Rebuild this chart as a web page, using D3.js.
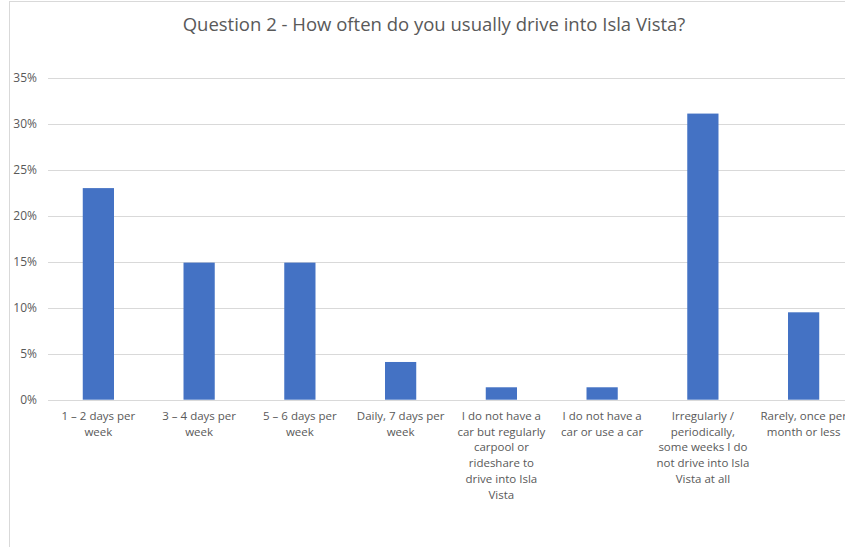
<!DOCTYPE html>
<html><head><meta charset="utf-8">
<script src="https://cdn.jsdelivr.net/npm/d3@7"></script>
<style>body{margin:0;background:#fff;}svg{display:block;}</style>
</head><body>
<svg id="chart" width="845" height="547"></svg>
<script>
const categories = [
  "1 – 2 days per week",
  "3 – 4 days per week",
  "5 – 6 days per week",
  "Daily, 7 days per week",
  "I do not have a car but regularly carpool or rideshare to drive into Isla Vista",
  "I do not have a car or use a car",
  "Irregularly / periodically, some weeks I do not drive into Isla Vista at all",
  "Rarely, once per month or less"
];
const values = [0.230, 0.149, 0.149, 0.041, 0.0135, 0.0135, 0.311, 0.095];
const yTicks = [0, 0.05, 0.10, 0.15, 0.20, 0.25, 0.30, 0.35];
const title = "Question 2 - How often do you usually drive into Isla Vista?";

const svg = d3.select("#chart");
const font = "'Open Sans', sans-serif";
const textColor = "#595959";

// chart border (cropped)
svg.append("rect").attr("x", 9.5).attr("y", 1.5).attr("width", 900).attr("height", 600)
  .attr("fill", "#fff").attr("stroke", "#d9d9d9").attr("stroke-width", 1);

const plot = {left: 48, right: 854, top: 77.7, bottom: 399.7};
const x = d3.scaleBand().domain(categories).range([plot.left, plot.right]).paddingInner(0.69).paddingOuter(0.345);
const y = d3.scaleLinear().domain([0, 0.35]).range([plot.bottom, plot.top]);

// grid
svg.append("g").selectAll("line").data(yTicks).join("line")
  .attr("x1", plot.left).attr("x2", plot.right)
  .attr("y1", d => Math.round(y(d)) + 0.5).attr("y2", d => Math.round(y(d)) + 0.5)
  .attr("stroke", "#d9d9d9").attr("stroke-width", 1);

// y axis labels
const yAxis = d3.axisLeft(y).tickValues(yTicks).tickFormat(d3.format(".0%")).tickSize(0).tickPadding(11);
const ya = svg.append("g").attr("transform", `translate(${plot.left},0)`).call(yAxis);
ya.select(".domain").remove();
ya.selectAll("text").attr("fill", textColor).style("font-family", font).style("font-size", "12px");

// bars
svg.append("g").selectAll("rect").data(values).join("rect")
  .attr("x", (d, i) => x(categories[i]))
  .attr("width", x.bandwidth())
  .attr("y", d => y(d))
  .attr("height", d => y(0) - y(d))
  .attr("fill", "#4472c4");

// x axis labels
const xAxis = d3.axisBottom(x).tickSize(0).tickPadding(12);
const xa = svg.append("g").attr("transform", `translate(0,${plot.bottom})`).call(xAxis);
xa.select(".domain").remove();
xa.selectAll("text").attr("fill", textColor).style("font-family", font).style("font-size", "11.5px")
  .each(function(d) { wrap(d3.select(this), 94); });

function wrap(text, width) {
  const words = text.text().split(/\s+/);
  const yy = text.attr("y"), dy = parseFloat(text.attr("dy"));
  text.text(null);
  let line = [], lineNo = 0;
  let tspan = text.append("tspan").attr("x", 0).attr("y", yy).attr("dy", dy + "em");
  for (const w of words) {
    line.push(w);
    tspan.text(line.join(" "));
    if (tspan.node().getComputedTextLength() > width && line.length > 1) {
      line.pop();
      tspan.text(line.join(" "));
      line = [w];
      lineNo++;
      tspan = text.append("tspan").attr("x", 0).attr("y", yy).attr("dy", (lineNo * 1.37 + dy) + "em").text(w);
    }
  }
}

// title
svg.append("text").attr("x", 434).attr("y", 31).attr("text-anchor", "middle")
  .attr("fill", textColor).style("font-family", font).style("font-size", "18.5px")
  .text(title);
</script>
</body></html>
